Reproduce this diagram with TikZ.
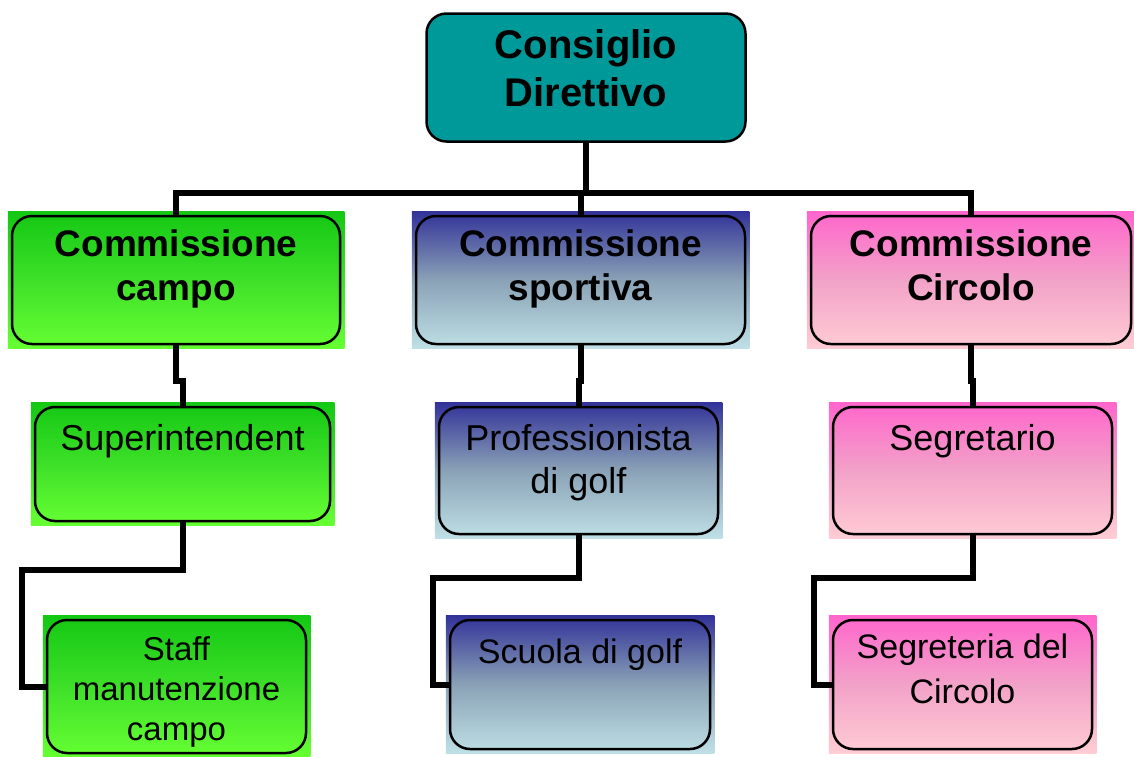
\documentclass[tikz,border=0pt]{standalone}
\usepackage{fontspec}
\setmainfont{Liberation Sans}
\usetikzlibrary{backgrounds}

\definecolor{tealbox}{HTML}{009999}
\definecolor{greenTop}{HTML}{14C814}
\definecolor{greenMid}{HTML}{3EE028}
\definecolor{greenBot}{HTML}{66FF33}
\definecolor{blueTop}{HTML}{333399}
\definecolor{blueMid}{HTML}{8AA2B6}
\definecolor{blueBot}{HTML}{BFE0E6}
\definecolor{pinkTop}{HTML}{FF66CC}
\definecolor{pinkMid}{HTML}{F2A2C8}
\definecolor{pinkBot}{HTML}{FFCCD4}

\begin{document}
\begin{tikzpicture}[x=1pt, y=-1pt,
    box/.style={draw, line width=2.5pt, rounded corners=20pt, inner sep=0pt},
    link/.style={line width=6pt},
    gfill/.style={top color=greenTop, bottom color=greenBot, middle color=greenMid},
    bfill/.style={top color=blueTop, bottom color=blueBot, middle color=blueMid},
    pfill/.style={top color=pinkTop, bottom color=pinkBot, middle color=pinkMid},
    title/.style={align=center, anchor=base, inner sep=0pt, font=\bfseries\fontsize{40}{48}\selectfont},
    head/.style={align=center, anchor=base, inner sep=0pt, font=\bfseries\fontsize{37}{44}\selectfont},
    sub/.style={align=center, anchor=base, inner sep=0pt, font=\fontsize{36}{43}\selectfont},
    leaf/.style={align=center, anchor=base, inner sep=0pt, font=\fontsize{34}{45}\selectfont}]
    \useasboundingbox (0,0) rectangle (1134,756);

    % boxes
    \node[box, fill=tealbox, minimum width=319pt, minimum height=128pt] (cd) at (586,77.5) {};

    \node[box, minimum width=328pt, minimum height=128pt] (campo) at (176,280) {};
    \node[box, minimum width=329pt, minimum height=128pt] (sport) at (580.5,280) {};
    \node[box, minimum width=320pt, minimum height=128pt] (circ) at (971,280) {};

    \node[box, minimum width=295pt, minimum height=114pt] (sup) at (182.5,464) {};
    \node[box, minimum width=279pt, minimum height=127pt] (pro) at (578.5,470.5) {};
    \node[box, minimum width=279pt, minimum height=127pt] (seg) at (972.5,470.5) {};

    \node[box, minimum width=259pt, minimum height=133pt] (staff) at (176.5,686.5) {};
    \node[box, minimum width=260pt, minimum height=129pt] (scuola) at (580,684.5) {};
    \node[box, minimum width=259pt, minimum height=129pt] (segr) at (962.5,684.5) {};

    % square gradient fills behind the rounded borders
    \begin{scope}[on background layer]
        \foreach \b/\f in {campo/gfill, sup/gfill, staff/gfill,
                           sport/bfill, pro/bfill, scuola/bfill,
                           circ/pfill, seg/pfill, segr/pfill}
            \shade[\f] ([shift={(-3pt,-3pt)}]\b.south west) rectangle ([shift={(3pt,3pt)}]\b.north east);
    \end{scope}

    % texts (base = baseline of the last line)
    \node[title] (cdT) at ([yshift=-94.5pt]cd.north) {Consiglio\\Direttivo};

    \node[head] (campoT) at ([yshift=-86pt]campo.north) {Commissione\\campo};
    \node[head] (sportT) at ([yshift=-86pt]sport.north) {Commissione\\sportiva};
    \node[head] (circT) at ([yshift=-86pt]circ.north) {Commissione\\Circolo};

    \node[sub] (supT) at ([yshift=-45pt]sup.north) {Superintendent};
    \node[sub] (proT) at ([yshift=-88pt]pro.north) {Professionista\\di golf};
    \node[sub] (segT) at ([yshift=-45pt]seg.north) {Segretario};

    \node[leaf, font=\fontsize{33}{40}\selectfont] (staffT) at ([yshift=-122pt]staff.north) {Staff\\manutenzione\\campo};
    \node[leaf] (scuolaT) at ([yshift=-45pt]scuola.north) {Scuola di golf};
    \node[leaf] (segrT) at ([yshift=-85pt]segr.north) {Segreteria del\\Circolo};

    % connectors
    \coordinate (bus) at (0,193);
    \draw[link] (cd.south) -- (cd.south |- bus);
    \draw[link] (campo.north) |- (cd.south |- bus) -| (circ.north);
    \draw[link] (sport.north) -- (sport.north |- bus);

    \draw[link] (campo.south) -- ++(0,36) -| (sup.north);
    \draw[link] (sport.south) -- ++(0,36) -| (pro.north);
    \draw[link] (circ.south) -- ++(0,36) -| (seg.north);

    \draw[link] (sup.south) -- ++(0,48) -| ([xshift=-24pt]staff.west) -- (staff.west);
    \draw[link] (pro.south) -- ++(0,43) -| ([xshift=-16pt]scuola.west) -- (scuola.west);
    \draw[link] (seg.south) -- ++(0,43) -| ([xshift=-18pt]segr.west) -- (segr.west);
\end{tikzpicture}
\end{document}
